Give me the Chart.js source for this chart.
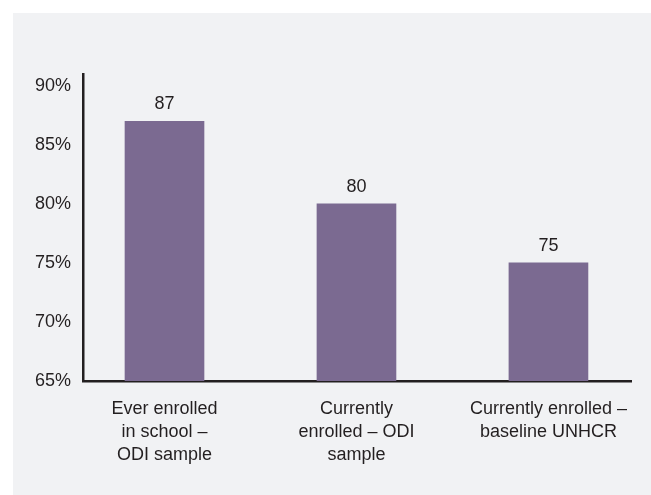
<!DOCTYPE html>
<html>
<head>
<meta charset="utf-8">
<script src="https://cdn.jsdelivr.net/npm/chart.js@4/dist/chart.umd.min.js"></script>
<style>
  html, body { margin: 0; padding: 0; background: #ffffff; }
  canvas { display: block; }
</style>
</head>
<body>
<canvas id="enrolChart" width="651" height="495"></canvas>
<script>
// categories (one array of lines per bar)
const categories = [
    ['Ever enrolled', 'in school \u2013', 'ODI sample'],
    ['Currently', 'enrolled \u2013 ODI', 'sample'],
    ['Currently enrolled \u2013', 'baseline UNHCR']
];
const enrolmentRates = [87, 80, 75];
const yTicks = [65, 70, 75, 80, 85, 90];

const fontFamily = '"Liberation Sans", Arial, sans-serif';
const textColor = '#231f20';

// grey panel behind the chart
const panelBg = {
    id: 'panelBg',
    beforeDraw(chart) {
        const c = chart.ctx;
        c.save();
        c.fillStyle = '#ffffff';
        c.fillRect(0, 0, chart.width, chart.height);
        c.fillStyle = '#f1f2f4';
        c.fillRect(13, 13, chart.width - 13, chart.height - 13);
        c.restore();
    }
};

// value above each bar
const barValues = {
    id: 'barValues',
    afterDatasetsDraw(chart) {
        const c = chart.ctx;
        const meta = chart.getDatasetMeta(0);
        c.save();
        c.font = '18px ' + fontFamily;
        c.fillStyle = textColor;
        c.textAlign = 'center';
        c.textBaseline = 'alphabetic';
        meta.data.forEach((bar, i) => {
            c.fillText(String(enrolmentRates[i]), bar.x, bar.y - 12);
        });
        c.restore();
    }
};

const ctx = document.getElementById('enrolChart').getContext('2d');

new Chart(ctx, {
    type: 'bar',
    data: {
        datasets: [{
            data: enrolmentRates.map((v, i) => ({ x: i, y: v })),
            backgroundColor: '#7b6a91',
            borderWidth: 0,
            barThickness: 79
        }]
    },
    options: {
        responsive: false,
        animation: false,
        layout: {
            padding: { left: 13, right: 20, top: 74, bottom: 14 }
        },
        plugins: {
            legend: { display: false },
            tooltip: { enabled: false }
        },
        scales: {
            x: {
                type: 'linear',
                offset: false,
                min: -0.4245,
                max: 2.43,
                grid: { display: false, drawTicks: false, offset: false },
                border: { display: true, color: '#231f20', width: 2.5 },
                afterBuildTicks: (scale) => {
                    scale.ticks = categories.map((c, i) => ({ value: i }));
                },
                afterFit: (scale) => { scale.height = 100; },
                ticks: {
                    autoSkip: false,
                    maxRotation: 0,
                    padding: 17,
                    color: textColor,
                    font: { family: fontFamily, size: 18, lineHeight: 1.26 },
                    callback: (value) => categories[value]
                }
            },
            y: {
                min: 65,
                max: 91,
                beginAtZero: false,
                grid: { display: false, drawTicks: false },
                border: { display: true, color: '#231f20', width: 2.5 },
                afterBuildTicks: (scale) => {
                    scale.ticks = yTicks.map(v => ({ value: v }));
                },
                afterFit: (scale) => { scale.width = 70; },
                ticks: {
                    padding: 12,
                    color: textColor,
                    font: { family: fontFamily, size: 18 },
                    callback: (value) => value + '%'
                }
            }
        }
    },
    plugins: [panelBg, barValues]
});
</script>
</body>
</html>
